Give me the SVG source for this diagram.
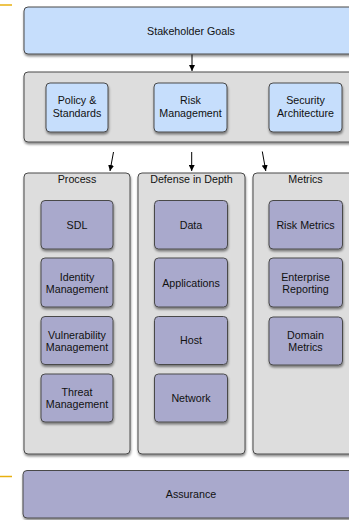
<svg xmlns="http://www.w3.org/2000/svg" width="349" height="520" viewBox="0 0 349 520">
<defs>
<filter id="sh" x="-10%" y="-10%" width="130%" height="140%">
<feDropShadow dx="0.5" dy="2" stdDeviation="1.2" flood-color="#000" flood-opacity="0.45"/>
</filter>
<marker id="ah" viewBox="0 0 10 10" refX="10" refY="5" markerWidth="6" markerHeight="6" orient="auto" markerUnits="userSpaceOnUse">
<path d="M0,0 L10,5 L0,10 z" fill="#000"/>
</marker>
</defs>
<style>
.blue{fill:#c6defc;stroke:#4a4a4a;stroke-width:1;filter:url(#sh)}
.gray{fill:#dddddd;stroke:#4a4a4a;stroke-width:1;filter:url(#sh)}
.purp{fill:#a9a9cc;stroke:#4a4a4a;stroke-width:1;filter:url(#sh)}
text{font-family:"Liberation Sans",Arial,sans-serif;font-size:10.7px;fill:#111;text-anchor:middle}
.conn line{stroke:#000;stroke-width:1;marker-end:url(#ah)}
.orange{stroke:#e8b010;stroke-width:1.5}
</style>
<rect width="349" height="520" fill="#fff"/>
<line class="orange" x1="0" y1="5" x2="12" y2="5"/>
<line class="orange" x1="0" y1="476.5" x2="12" y2="476.5"/>

<g id="stakeholder-goals">
<rect class="blue" x="24" y="7" width="340" height="47" rx="4"/>
<text x="191" y="34.5">Stakeholder Goals</text>
</g>

<g id="governance">
<rect class="gray" x="24" y="72" width="340" height="70" rx="4"/>
</g>
<g id="policy-standards">
<rect class="blue" x="46" y="83" width="62" height="49" rx="4"/>
<text x="77" y="104">Policy &amp;</text>
<text x="77" y="116.5">Standards</text>
</g>
<g id="risk-management">
<rect class="blue" x="154" y="83" width="73" height="49" rx="4"/>
<text x="190.5" y="104">Risk</text>
<text x="190.5" y="116.5">Management</text>
</g>
<g id="security-architecture">
<rect class="blue" x="269" y="83" width="73" height="49" rx="4"/>
<text x="305.5" y="104">Security</text>
<text x="305.5" y="116.5">Architecture</text>
</g>

<g id="process">
<rect class="gray" x="24" y="173" width="106" height="281" rx="4"/>
<text x="77" y="183">Process</text>
</g>
<g id="defense-in-depth">
<rect class="gray" x="138" y="173" width="107" height="281" rx="4"/>
<text x="191.5" y="183">Defense in Depth</text>
</g>
<g id="metrics">
<rect class="gray" x="253" y="173" width="110" height="281" rx="4"/>
<text x="305.5" y="183">Metrics</text>
</g>

<g id="sdl">
<rect class="purp" x="41" y="200.5" width="72" height="48.5" rx="4"/>
<text x="77" y="228.5">SDL</text>
</g>
<g id="identity-management">
<rect class="purp" x="41" y="258" width="72" height="49" rx="4"/>
<text x="77" y="280.5">Identity</text>
<text x="77" y="292.5">Management</text>
</g>
<g id="vulnerability-management">
<rect class="purp" x="41" y="316.5" width="72" height="48" rx="4"/>
<text x="77" y="338.5">Vulnerability</text>
<text x="77" y="350.5">Management</text>
</g>
<g id="threat-management">
<rect class="purp" x="41" y="374" width="72" height="48" rx="4"/>
<text x="77" y="395.5">Threat</text>
<text x="77" y="407.5">Management</text>
</g>

<g id="data">
<rect class="purp" x="154.5" y="200.5" width="73" height="48.5" rx="4"/>
<text x="191" y="228.5">Data</text>
</g>
<g id="applications">
<rect class="purp" x="154.5" y="258" width="73" height="49" rx="4"/>
<text x="191" y="286.5">Applications</text>
</g>
<g id="host">
<rect class="purp" x="154.5" y="316.5" width="73" height="48" rx="4"/>
<text x="191" y="344">Host</text>
</g>
<g id="network">
<rect class="purp" x="154.5" y="374" width="73" height="48" rx="4"/>
<text x="191" y="401.5">Network</text>
</g>

<g id="risk-metrics">
<rect class="purp" x="269" y="200.5" width="73.5" height="48.5" rx="4"/>
<text x="305.5" y="228.5">Risk Metrics</text>
</g>
<g id="enterprise-reporting">
<rect class="purp" x="269" y="258" width="73.5" height="49" rx="4"/>
<text x="305.5" y="280.5">Enterprise</text>
<text x="305.5" y="292.5">Reporting</text>
</g>
<g id="domain-metrics">
<rect class="purp" x="269" y="317" width="73.5" height="48" rx="4"/>
<text x="305.5" y="338.5">Domain</text>
<text x="305.5" y="350.5">Metrics</text>
</g>

<g id="assurance">
<rect class="purp" x="23" y="470.5" width="340" height="47.5" rx="4"/>
<text x="191" y="498">Assurance</text>
</g>

<g id="connectors" class="conn">
<line x1="192" y1="54.5" x2="192" y2="71"/>
<line x1="113.5" y1="152" x2="110" y2="171"/>
<line x1="191.7" y1="152" x2="191.7" y2="171"/>
<line x1="262.3" y1="151.5" x2="265.8" y2="171"/>
</g>
</svg>
